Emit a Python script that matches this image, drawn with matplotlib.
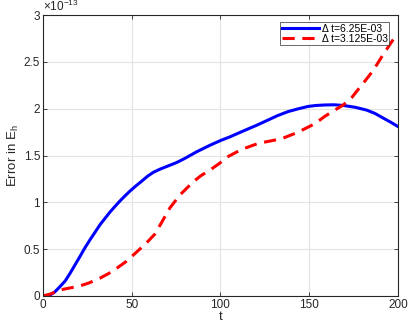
import matplotlib
matplotlib.use("Agg")
import matplotlib.pyplot as plt
import numpy as np

plt.rcParams['font.family'] = ['Liberation Sans', 'DejaVu Sans']
plt.rcParams['mathtext.fontset'] = 'custom'
plt.rcParams['mathtext.rm'] = 'Liberation Sans'
plt.rcParams['mathtext.it'] = 'Liberation Sans'

t_blue = [0, 3.9, 6.5, 9.6, 12.5, 15.2, 18, 20.8, 23.5, 26.5, 29.5, 32.1, 35, 37.7, 40.5, 43.4, 46, 49, 52, 54.6,
          56.5, 59, 62.1, 66, 70, 75.3, 80, 86.6, 94.1, 100, 105.4, 113.8, 120, 126.9, 132, 138.2, 144,
          149.5, 154, 158.9, 164, 169.2, 176, 182.4, 187, 191.7, 196, 200]
e_blue = [0, 0.01, 0.04, 0.1, 0.16, 0.24, 0.33, 0.42, 0.51, 0.60, 0.685, 0.76, 0.83, 0.895, 0.955, 1.015, 1.065, 1.12, 1.17, 1.21,
          1.24, 1.28, 1.32, 1.355, 1.385, 1.425, 1.47, 1.54, 1.61, 1.66, 1.70, 1.77, 1.82, 1.88, 1.925, 1.97, 2.0,
          2.025, 2.035, 2.04, 2.042, 2.035, 2.015, 1.985, 1.95, 1.90, 1.855, 1.81]

t_red = [0, 4, 9.6, 15, 20.8, 26, 32.1, 37, 41.5, 47, 52.8, 58, 63, 67, 71.5, 77.2, 84.7, 89, 94.1, 99, 104.4,
         111.9, 121.3, 128, 134.5, 143.8, 153.2, 158.9, 164, 169.2, 174, 178.6, 182, 186.1, 191.7, 197, 200]
e_red = [0, 0.02, 0.064, 0.085, 0.107, 0.14, 0.19, 0.24, 0.295, 0.37, 0.47, 0.56, 0.66, 0.79, 0.94, 1.08, 1.22, 1.285, 1.345, 1.41, 1.49,
         1.565, 1.63, 1.655, 1.68, 1.75, 1.84, 1.92, 1.98, 2.04, 2.12, 2.23, 2.31, 2.41, 2.58, 2.73, 2.80]

scale = 1e-13
xticks = [0, 50, 100, 150, 200]
yticks = [0, 0.5, 1, 1.5, 2, 2.5, 3]
ytick_labels = ['0', '0.5', '1', '1.5', '2', '2.5', '3']

fig = plt.figure(figsize=(4.09, 3.28), dpi=100)
ax = fig.add_axes([0.105, 0.0976, 0.868, 0.8564])
ax.plot(t_blue, np.array(e_blue) * scale, color='#0000ff', lw=2.2, label='Δ t=6.25E-03')
ax.plot(t_red, np.array(e_red) * scale, color='#ff0000', lw=2.2, ls=(0, (4, 2.5)), label='Δ t=3.125E-03')

ax.set_xlim(0, 200)
ax.set_ylim(0, 3e-13)
ax.set_xticks(xticks)
ax.set_yticks(np.array(yticks) * scale)
ax.set_yticklabels(ytick_labels)
ax.grid(True, color='#e3e3e3', lw=0.8)
ax.set_axisbelow(True)
for s in ax.spines.values():
    s.set_color('#262626')
    s.set_linewidth(0.8)
ax.tick_params(direction='in', top=True, right=True, labelsize=8.5, colors='#262626', length=3, width=0.6, pad=2)
ax.set_xlabel('t', fontsize=9.5, color='#262626', labelpad=0)
ax.set_ylabel(r'Error in E$_\mathregular{h}$', fontsize=9.5, color='#262626', labelpad=2)
ax.text(0.0, 1.005, r'$\times$10$^{\mathregular{-13}}$', transform=ax.transAxes, fontsize=8.5, color='#262626', va='bottom', ha='left')

leg = ax.legend(loc='upper right', bbox_to_anchor=(0.975, 0.975), fontsize=7.5, frameon=True, fancybox=False,
                edgecolor='#262626', handlelength=3.6, handletextpad=0.2, borderpad=0.15, labelspacing=0.0, borderaxespad=0)
leg.get_frame().set_linewidth(0.6)

fig.savefig('out.png', dpi=100)
